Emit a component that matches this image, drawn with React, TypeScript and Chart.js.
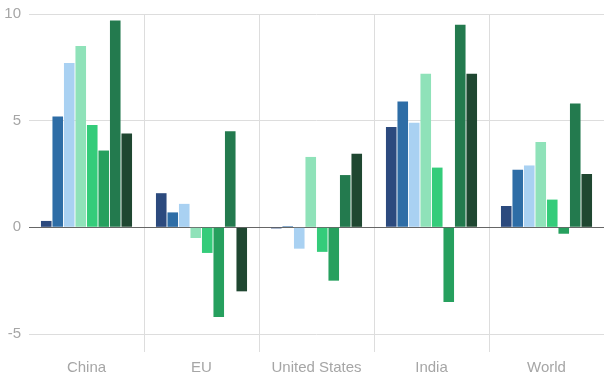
import React, { useEffect, useRef } from "react";
import { Chart, registerables } from "chart.js";

Chart.register(...registerables);

const categories = ["China", "EU", "United States", "India", "World"];
const seriesA = [0.3, 1.6, -0.05, 4.7, 1.0];
const seriesB = [5.2, 0.7, 0.05, 5.9, 2.7];
const seriesC = [7.7, 1.1, -1.0, 4.9, 2.9];
const seriesD = [8.5, -0.5, 3.3, 7.2, 4.0];
const seriesE = [4.8, -1.2, -1.15, 2.8, 1.3];
const seriesF = [3.6, -4.2, -2.5, -3.5, -0.3];
const seriesG = [9.7, 4.5, 2.45, 9.5, 5.8];
const seriesH = [4.4, -3.0, 3.45, 7.2, 2.5];
const seriesColors = ["#2c4a7e", "#2e6da6", "#a9d1f2", "#8fe2b9", "#34cc7a", "#26a05e", "#237a4e", "#1f4731"];
const yTicks = [10, 5, 0, -5];

export default function App() {
  const ref = useRef<HTMLCanvasElement | null>(null);
  useEffect(() => {
    document.body.style.margin = "0";
    const all = [seriesA, seriesB, seriesC, seriesD, seriesE, seriesF, seriesG, seriesH];
    const chart = new Chart(ref.current!, {
      type: "bar",
      data: {
        labels: categories,
        datasets: all.map((d, i) => ({
          label: "S" + (i + 1),
          data: d,
          backgroundColor: seriesColors[i],
          borderWidth: 0,
          categoryPercentage: 0.8,
          barPercentage: 0.92,
        })),
      },
      options: {
        animation: false,
        responsive: false,
        maintainAspectRatio: false,
        layout: { padding: { top: 14, right: 0, left: 0, bottom: 0 } },
        plugins: { legend: { display: false }, tooltip: { enabled: false } },
        scales: {
          x: {
            grid: {
              offset: true,
              color: (ctx: any) => (ctx.index === 0 || ctx.index === categories.length ? "rgba(0,0,0,0)" : "#dddddd"),
              tickLength: 18,
              lineWidth: 1,
            },
            border: { display: false },
            ticks: {
              color: "#a6a6a6",
              font: { family: "Liberation Sans", size: 15 },
              padding: 7,
            },
            afterFit: (s: any) => { s.height = 45; },
          },
          y: {
            min: -5,
            max: 10,
            afterBuildTicks: (s: any) => { s.ticks = yTicks.map((v) => ({ value: v })); },
            grid: {
              color: (ctx: any) => (ctx.tick && ctx.tick.value === 0 ? "#666666" : "#dddddd"),
              drawTicks: false,
            },
            border: { display: false },
            ticks: {
              color: "#a6a6a6",
              font: { family: "Liberation Sans", size: 15, lineHeight: 0.6 },
              padding: 8,
            },
            afterFit: (s: any) => { s.width = 29; s.paddingTop = 0; s.paddingBottom = 0; },
          },
        },
      },
    });
    return () => chart.destroy();
  }, []);
  return (
    <div style={{ width: 604, height: 379 }}>
      <canvas ref={ref} width={604} height={379} style={{ width: 604, height: 379, display: "block" }} />
    </div>
  );
}
